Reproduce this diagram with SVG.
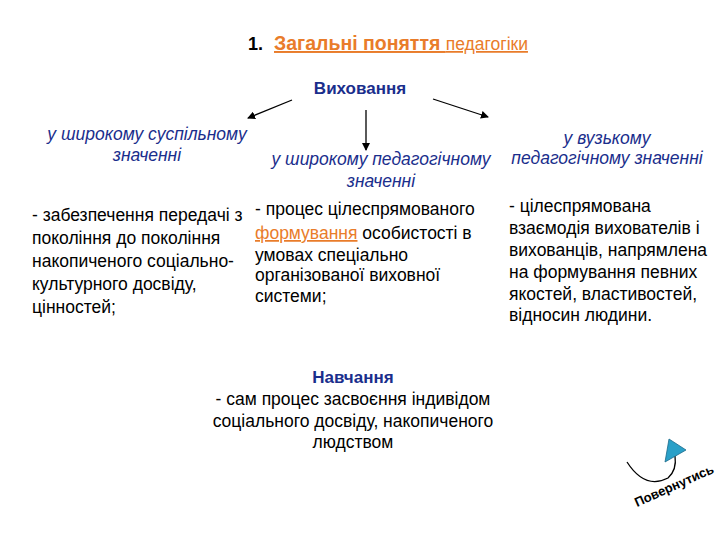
<svg xmlns="http://www.w3.org/2000/svg" width="720" height="540" viewBox="0 0 720 540">
<style>
.b{font-family:"Liberation Sans",Arial,sans-serif;font-size:17.5px;fill:#000}
.i{font-family:"Liberation Sans",Arial,sans-serif;font-size:17.5px;font-style:italic;fill:#1a2e8c}
.o{font-family:"Liberation Sans",Arial,sans-serif;fill:#e97c2a;text-decoration:underline}
.c{stroke:#000;stroke-width:1.3;fill:none}
</style>
<defs><marker id="a" markerWidth="8" markerHeight="8" refX="7" refY="4" orient="auto" markerUnits="userSpaceOnUse"><path d="M0,0 L8,4 L0,8 z" fill="#000"/></marker></defs>
<rect width="720" height="540" fill="#fff"/>
<g id="title"><text x="248" y="50" font-family="Liberation Sans,Arial,sans-serif" font-size="18" font-weight="bold">1.</text>
<text x="274" y="50" class="o" font-size="19.5" font-weight="bold">Загальні поняття <tspan font-size="17.5" font-weight="normal">педагогіки</tspan></text></g>
<g id="vyh"><text x="360" y="94" text-anchor="middle" font-family="Liberation Sans,Arial,sans-serif" font-size="17" font-weight="bold" fill="#1a2e8c">Виховання</text></g>
<g id="connectors">
<line class="c" x1="292" y1="100" x2="248" y2="118" marker-end="url(#a)"/>
<line class="c" x1="366" y1="110" x2="366" y2="150" marker-end="url(#a)"/>
<line class="c" x1="433" y1="99" x2="488" y2="117" marker-end="url(#a)"/>
</g>
<g id="wide"><text class="i" text-anchor="middle"><tspan x="147" y="140">у широкому суспільному</tspan><tspan x="147" y="161">значенні</tspan></text>
<text class="b"><tspan x="32" y="221">- забезпечення передачі з</tspan><tspan x="32" y="244">покоління до покоління</tspan><tspan x="32" y="267">накопиченого соціально-</tspan><tspan x="32" y="290">культурного досвіду,</tspan><tspan x="32" y="313">цінностей;</tspan></text></g>
<g id="ped"><text class="i" text-anchor="middle"><tspan x="381" y="165">у широкому педагогічному</tspan><tspan x="381" y="187">значенні</tspan></text>
<text class="b"><tspan x="255" y="215">- процес цілеспрямованого</tspan><tspan x="255" y="239"><tspan fill="#e97c2a" text-decoration="underline">формування</tspan> особистості в</tspan><tspan x="255" y="261">умовах спеціально</tspan><tspan x="255" y="281">організованої виховної</tspan><tspan x="255" y="302">системи;</tspan></text></g>
<g id="narrow"><text class="i" text-anchor="middle"><tspan x="607" y="144">у вузькому</tspan><tspan x="607" y="164">педагогічному значенні</tspan></text>
<text class="b"><tspan x="509" y="212">- цілеспрямована</tspan><tspan x="509" y="234">взаємодія вихователів і</tspan><tspan x="509" y="256">вихованців, напрямлена</tspan><tspan x="509" y="278">на формування певних</tspan><tspan x="509" y="300">якостей, властивостей,</tspan><tspan x="509" y="321">відносин людини.</tspan></text></g>
<g id="navch"><text x="353" y="383" text-anchor="middle" font-family="Liberation Sans,Arial,sans-serif" font-size="17" font-weight="bold" fill="#1a2e8c">Навчання</text>
<text class="b" text-anchor="middle"><tspan x="353" y="405">- сам процес засвоєння індивідом</tspan><tspan x="353" y="427">соціального досвіду, накопиченого</tspan><tspan x="353" y="448">людством</tspan></text></g>
<g id="back"><path d="M627,462 Q645,490 668,478 Q677,470 675,456" class="c"/>
<polygon points="669,439 686,450 665,462" fill="#2aa0c8" stroke="#1a6a8a" stroke-width="0.8"/>
<text x="637" y="507" transform="rotate(-24 637 507)" font-family="Liberation Sans,Arial,sans-serif" font-size="13" font-weight="bold" fill="#000">Повернутись</text></g>
</svg>
